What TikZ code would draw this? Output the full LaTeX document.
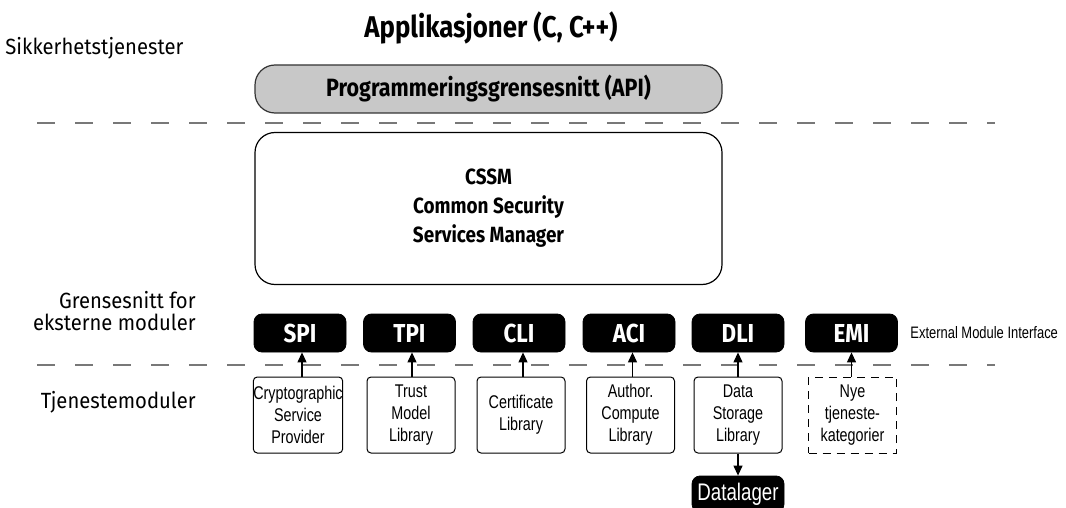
\documentclass[tikz,border=0pt]{standalone}
\usepackage{fontspec}
\setmainfont{Fira Sans}
\newfontfamily\hdfont[FakeStretch=0.86]{Fira Sans}
\newfontfamily\lbfont[FakeStretch=0.92]{Fira Sans}
\newfontfamily\smfont[FakeStretch=0.78]{Liberation Sans}
\usetikzlibrary{arrows.meta}
\definecolor{apigray}{RGB}{200,200,200}
\definecolor{dashgray}{RGB}{120,120,120}
\tikzset{
  lbl/.style={font=\lbfont\fontsize{11}{11.2}\selectfont, inner sep=0pt},
  iface/.style={draw=black, fill=black, rounded corners=4pt, minimum width=46pt, minimum height=19pt, inner sep=0pt, text=white, font=\hdfont\bfseries\fontsize{13}{15}\selectfont},
  modbox/.style={draw=black, line width=0.5pt, rounded corners=2pt, minimum width=44pt, minimum height=38pt, inner sep=0pt, align=center, font=\smfont\fontsize{9.2}{11}\selectfont},
  sep/.style={draw=dashgray, line width=0.6pt, dash pattern=on 9pt off 10pt},
  up/.style={-{Triangle[length=5pt,width=4.5pt]}, line width=0.6pt}
}
\begin{document}
\begin{tikzpicture}[x=0.5pt,y=-0.5pt]
\useasboundingbox (0,0) rectangle (1066,508);
% title
\node[font=\hdfont\bfseries\fontsize{15}{17}\selectfont] (app) at (491,28) {Applikasjoner (C, C++)};
\node[lbl, anchor=west] (sik) at (5,48) {Sikkerhetstjenester};
\node[draw=black!80, line width=0.6pt, fill=apigray, rounded corners=10pt, minimum width=233.5pt, minimum height=24pt, font=\hdfont\bfseries\fontsize{12.5}{14}\selectfont] (api) at (488.5,89) {Programmeringsgrensesnitt (API)};
% separator 1
\coordinate (s1a) at (37,123);
\coordinate (s1b) at (995,123);
\draw[sep] (s1a) -- (s1b);
% CSSM
\node[draw=black, line width=0.6pt, rounded corners=10pt, minimum width=233.5pt, minimum height=76pt, align=center, font=\hdfont\bfseries\fontsize{11}{14.5}\selectfont] (cssm) at (488.5,208.5) {CSSM\\Common Security\\Services Manager};
% left labels
\node[lbl, anchor=east, align=right] (gren) at (196,311) {Grensesnitt for\\eksterne moduler};
\node[lbl, anchor=east] (tjen) at (196,402) {Tjenestemoduler};
% interfaces
\node[iface] (spi) at (300,333) {SPI};
\node[iface] (tpi) at (409.5,333) {TPI};
\node[iface] (cli) at (519,333) {CLI};
\node[iface] (aci) at (629,333) {ACI};
\node[iface] (dli) at (738,333) {DLI};
\node[iface] (emi) at (851.5,333) {EMI};
\node[anchor=west, inner sep=0pt, font=\smfont\fontsize{8.3}{10}\selectfont] (ext) at (910,333) {External Module Interface};
% separator 2
\coordinate (s2a) at (37,365);
\coordinate (s2b) at (995,365);
\draw[sep] (s2a) -- (s2b);
% modules
\node[modbox] (csp) at (298,415) {Cryptographic\\Service\\Provider};
\node[modbox] (tml) at (411,415) {Trust\\Model\\Library};
\node[modbox] (cl) at (521,415) {Certificate\\Library};
\node[modbox] (acl) at (630.5,415) {Author.\\Compute\\Library};
\node[modbox] (dsl) at (738,415) {Data\\Storage\\Library};
\node[modbox, rounded corners=0pt, dash pattern=on 4pt off 3pt] (nye) at (852.5,415) {Nye\\tjeneste-\\kategorier};
% arrows
\draw[up] (csp.north) ++(4,0) coordinate (a1) -- (a1 |- spi.south);
\draw[up] (tml.north) ++(1,0) coordinate (a2) -- (a2 |- tpi.south);
\draw[up] (cl.north) ++(2,0) coordinate (a3) -- (a3 |- cli.south);
\draw[up] (acl.north) ++(2,0) coordinate (a4) -- (a4 |- aci.south);
\draw[up] (dsl.north) -- (dsl.north |- dli.south);
\draw[up] (nye.north) ++(-1,0) coordinate (a6) -- (a6 |- emi.south);
% datalager
\node[draw=black, fill=black, rounded corners=4pt, minimum width=46pt, minimum height=18pt, inner sep=0pt, text=white, font=\smfont\fontsize{12}{13}\selectfont] (dl) at (738,494) {Datalager};
\draw[up] (dsl.south) -- (dl.north);
\end{tikzpicture}
\end{document}
